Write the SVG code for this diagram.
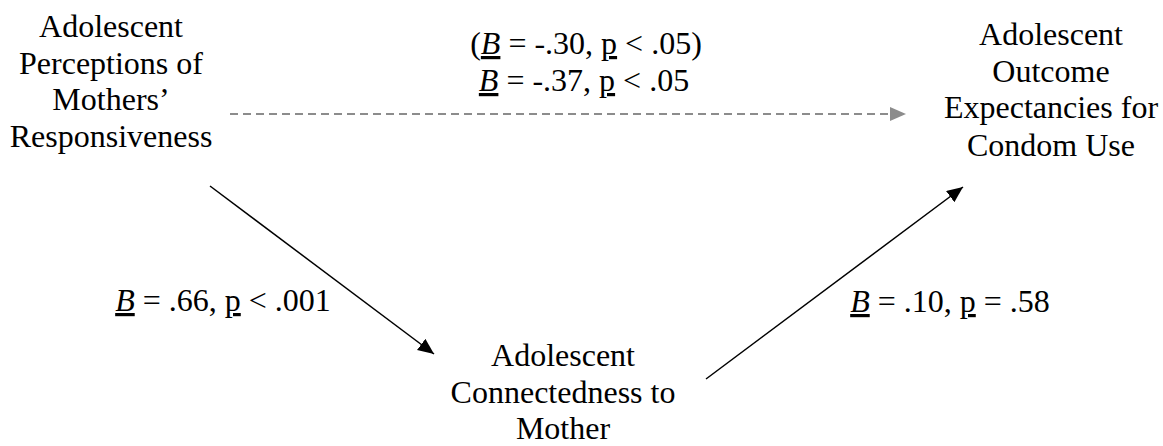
<svg xmlns="http://www.w3.org/2000/svg" width="1163" height="446" viewBox="0 0 1163 446">
  <style>
    text { font-family: "Liberation Serif", "Times New Roman", serif; font-size: 32px; fill: #000; }
    .c { text-anchor: middle; }
    .u { text-decoration: underline; }
    .i { font-style: italic; }
    .solid { stroke: #000; stroke-width: 1.5; fill: none; }
    .dash { stroke: #8c8c8c; stroke-width: 2; stroke-dasharray: 8 5; fill: none; }
  </style>
  <defs>
    <marker id="ahBlack" markerUnits="userSpaceOnUse" markerWidth="18" markerHeight="16" refX="16" refY="7" orient="auto">
      <path d="M0,0 L16,7 L0,14 z" fill="#000"/>
    </marker>
    <marker id="ahGray" markerUnits="userSpaceOnUse" markerWidth="18" markerHeight="16" refX="16" refY="7" orient="auto">
      <path d="M0,0 L16,7 L0,14 z" fill="#8c8c8c"/>
    </marker>
  </defs>
  <rect width="1163" height="446" fill="#fff"/>

  <g id="node-perceptions">
    <text class="c" x="111" y="37">Adolescent</text>
    <text class="c" x="111" y="74">Perceptions of</text>
    <text class="c" x="111" y="110">Mothers’</text>
    <text class="c" x="111" y="147">Responsiveness</text>
  </g>

  <g id="node-outcome">
    <text class="c" x="1051" y="45">Adolescent</text>
    <text class="c" x="1051" y="82">Outcome</text>
    <text class="c" x="1051" y="118">Expectancies for</text>
    <text class="c" x="1051" y="156">Condom Use</text>
  </g>

  <g id="node-connectedness">
    <text class="c" x="563" y="366">Adolescent</text>
    <text class="c" x="563" y="403">Connectedness to</text>
    <text class="c" x="563" y="439">Mother</text>
  </g>

  <g id="connectors">
    <line class="dash" x1="230" y1="114" x2="906" y2="114" marker-end="url(#ahGray)"/>
    <line class="solid" x1="210" y1="186" x2="434" y2="354" marker-end="url(#ahBlack)"/>
    <line class="solid" x1="706" y1="379" x2="963" y2="187" marker-end="url(#ahBlack)"/>
  </g>

  <g id="labels">
    <text class="c" x="586" y="54">(<tspan class="u i">B</tspan> = -.30, <tspan class="u">p</tspan> &lt; .05)</text>
    <text class="c" x="584" y="91"><tspan class="u i">B</tspan> = -.37, <tspan class="u">p</tspan> &lt; .05</text>
    <text class="c" x="223" y="311"><tspan class="u i">B</tspan> = .66, <tspan class="u">p</tspan> &lt; .001</text>
    <text class="c" x="950" y="312"><tspan class="u i">B</tspan> = .10, <tspan class="u">p</tspan> = .58</text>
  </g>
</svg>
